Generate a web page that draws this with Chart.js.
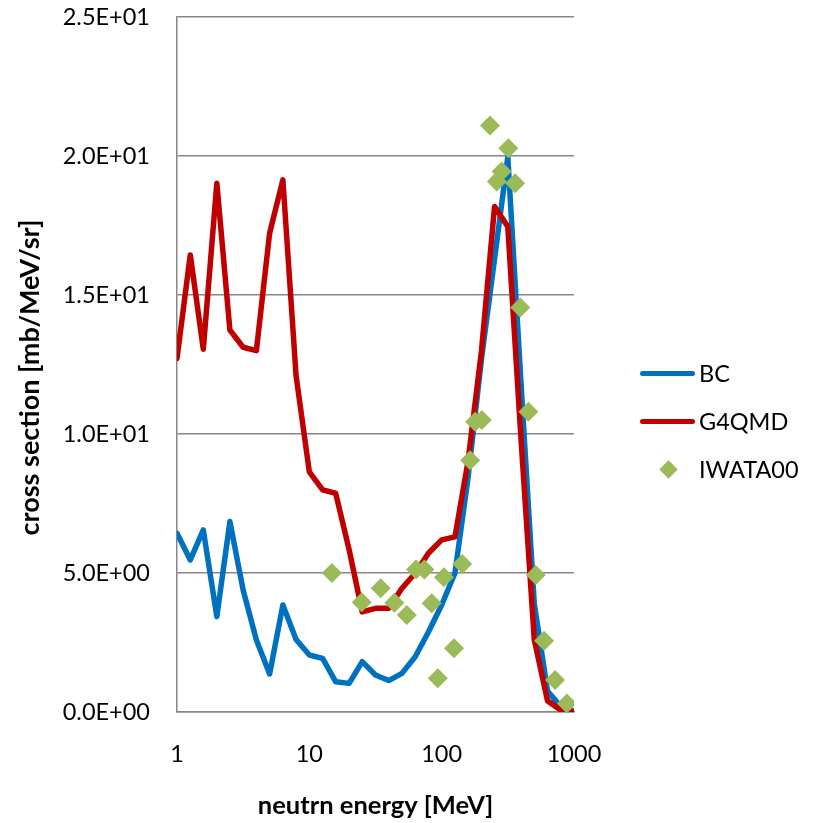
<!DOCTYPE html>
<html>
<head>
<meta charset="utf-8">
<script src="https://cdn.jsdelivr.net/npm/chart.js@4.4.1/dist/chart.umd.min.js"></script>
<style>
  html, body { margin: 0; padding: 0; background: #ffffff; }
  #wrap { position: relative; width: 815px; height: 823px; overflow: hidden; }
  #c { position: absolute; left: 0; top: 0; }
  .lg-line { position: absolute; height: 5px; border-radius: 3px; }
  .lg-diamond { position: absolute; width: 13px; height: 13px; transform: rotate(45deg); }
  .lg-text { position: absolute; font-family: Lato, sans-serif; font-size: 23.5px; color: #000; height: 28px; line-height: 28px; white-space: nowrap; }
</style>
</head>
<body>
<div id="wrap">
  <canvas id="c" width="815" height="823"></canvas>
  <div id="legend"></div>
</div>
<script>
// Neutron energies of the model curves [MeV]
const energies = [1, 1.26, 1.58, 2.0, 2.51, 3.16, 3.98, 5.01, 6.31, 7.94,
                  10, 12.6, 15.8, 20.0, 25.1, 31.6, 39.8, 50.1, 63.1, 79.4,
                  100, 126, 158, 200, 251, 316, 398, 501, 631, 794, 1000];

// BC model cross section [mb/MeV/sr]
const bc = [6.43, 5.47, 6.55, 3.43, 6.85, 4.39, 2.59, 1.37, 3.85, 2.61,
            2.05, 1.93, 1.09, 1.03, 1.81, 1.33, 1.13, 1.39, 1.99, 2.88,
            3.85, 5.0, 8.4, 12.7, 16.3, 19.97, 11.8, 3.9, 0.75, 0.2, 0.03];

// G4QMD model cross section [mb/MeV/sr]
const g4qmd = [12.72, 16.44, 13.05, 19.02, 13.74, 13.12, 13.0, 17.22, 19.14, 12.1,
               8.64, 7.99, 7.87, 5.83, 3.6, 3.73, 3.73, 4.45, 4.99, 5.71,
               6.19, 6.3, 9.0, 13.0, 18.18, 17.46, 9.8, 2.6, 0.4, 0.07, 0.0];

// IWATA00 measurement
const iwataEnergy = [14.8, 24.9, 34.6, 43.9, 54.5, 64.0, 74.0, 84.1, 93.4, 104,
                     124, 143, 164, 179, 201, 232, 261, 284, 319, 359,
                     392, 452, 514, 594, 719, 883];
const iwataValue = [5.0, 3.95, 4.45, 3.93, 3.49, 5.13, 5.13, 3.91, 1.21, 4.85,
                    2.29, 5.32, 9.06, 10.44, 10.5, 21.1, 19.08, 19.44, 20.28, 19.02,
                    14.55, 10.8, 4.93, 2.56, 1.15, 0.31];

const seriesNames = ['BC', 'G4QMD', 'IWATA00'];
const seriesColors = ['#0070C0', '#C00000', '#9BBB59'];

const xTicks = [1, 10, 100, 1000];
const xTickLabels = ['1', '10', '100', '1000'];
const yTicks = [0, 5, 10, 15, 20, 25];
const yTickLabels = ['0.0E+00', '5.0E+00', '1.0E+01', '1.5E+01', '2.0E+01', '2.5E+01'];

const xTitle = 'neutrn energy [MeV]';
const yTitle = 'cross section [mb/MeV/sr]';

const FONT = 'Lato, sans-serif';
const GRID = '#868686';
const TRANSPARENT = 'rgba(0,0,0,0)';

const pairs = (xs, ys) => xs.map((x, i) => ({ x: x, y: ys[i] }));

// Axis titles placed in the margins around the plot
const axisTitles = {
  id: 'axisTitles',
  afterDraw(chart) {
    const ctx = chart.ctx;
    const area = chart.chartArea;
    ctx.save();
    ctx.fillStyle = '#000';
    ctx.textAlign = 'center';
    ctx.textBaseline = 'middle';
    ctx.font = 'bold 25.5px ' + FONT;
    ctx.fillText(xTitle, (area.left + area.right) / 2, 806);
    ctx.font = 'bold 27px ' + FONT;
    ctx.translate(30, (area.top + area.bottom) / 2 + 13);
    ctx.rotate(-Math.PI / 2);
    ctx.fillText(yTitle, 0, 0);
    ctx.restore();
  }
};

new Chart(document.getElementById('c'), {
  type: 'line',
  data: {
    datasets: [
      {
        label: seriesNames[0],
        data: pairs(energies, bc),
        borderColor: seriesColors[0],
        backgroundColor: seriesColors[0],
        borderWidth: 5.5,
        pointRadius: 0,
        tension: 0,
        borderJoinStyle: 'round',
        borderCapStyle: 'round',
        order: 3
      },
      {
        label: seriesNames[1],
        data: pairs(energies, g4qmd),
        borderColor: seriesColors[1],
        backgroundColor: seriesColors[1],
        borderWidth: 5.5,
        pointRadius: 0,
        tension: 0,
        borderJoinStyle: 'round',
        borderCapStyle: 'round',
        order: 2
      },
      {
        label: seriesNames[2],
        data: pairs(iwataEnergy, iwataValue),
        showLine: false,
        pointStyle: 'rectRot',
        pointRadius: 10,
        pointBorderWidth: 0,
        pointBackgroundColor: seriesColors[2],
        pointBorderColor: seriesColors[2],
        order: 1
      }
    ]
  },
  options: {
    responsive: false,
    animation: false,
    devicePixelRatio: 1,
    layout: { padding: { left: 0, right: 241, top: 17, bottom: 0 } },
    plugins: {
      legend: { display: false },
      tooltip: { enabled: false },
      title: { display: false }
    },
    scales: {
      x: {
        type: 'logarithmic',
        min: 1,
        max: 1000,
        afterBuildTicks: s => { s.ticks = xTicks.map(v => ({ value: v })); },
        afterFit: s => { s.height = 111; },
        ticks: {
          autoSkip: false,
          maxRotation: 0,
          padding: 0,
          color: '#000',
          font: { family: FONT, size: 23.5 },
          callback: v => xTickLabels[xTicks.indexOf(v)]
        },
        grid: { display: false, drawTicks: true, tickLength: 28, tickColor: TRANSPARENT },
        border: { display: true, color: GRID, width: 1.5 }
      },
      y: {
        min: 0,
        max: 25,
        afterBuildTicks: s => { s.ticks = yTicks.map(v => ({ value: v })); },
        afterFit: s => { s.width = 177; },
        ticks: {
          padding: 0,
          color: '#000',
          font: { family: FONT, size: 23.5 },
          callback: v => yTickLabels[yTicks.indexOf(v)]
        },
        grid: { color: GRID, lineWidth: 1.5, drawTicks: true, tickLength: 27, tickColor: TRANSPARENT },
        border: { display: true, color: GRID, width: 1.5 }
      }
    }
  },
  plugins: [axisTitles]
});

// Legend at the right of the plot
const legend = document.getElementById('legend');
const rowY = [373, 421, 469];
seriesNames.forEach((name, i) => {
  if (i < 2) {
    const ln = document.createElement('div');
    ln.className = 'lg-line';
    ln.style.left = '640px';
    ln.style.width = '55px';
    ln.style.top = (rowY[i] - 2.5) + 'px';
    ln.style.background = seriesColors[i];
    legend.appendChild(ln);
  } else {
    const d = document.createElement('div');
    d.className = 'lg-diamond';
    d.style.left = (668 - 6.5) + 'px';
    d.style.top = (rowY[i] - 6.5) + 'px';
    d.style.background = seriesColors[i];
    legend.appendChild(d);
  }
  const t = document.createElement('div');
  t.className = 'lg-text';
  t.style.left = '699px';
  t.style.top = (rowY[i] - 14) + 'px';
  t.textContent = name;
  legend.appendChild(t);
});
</script>
</body>
</html>
